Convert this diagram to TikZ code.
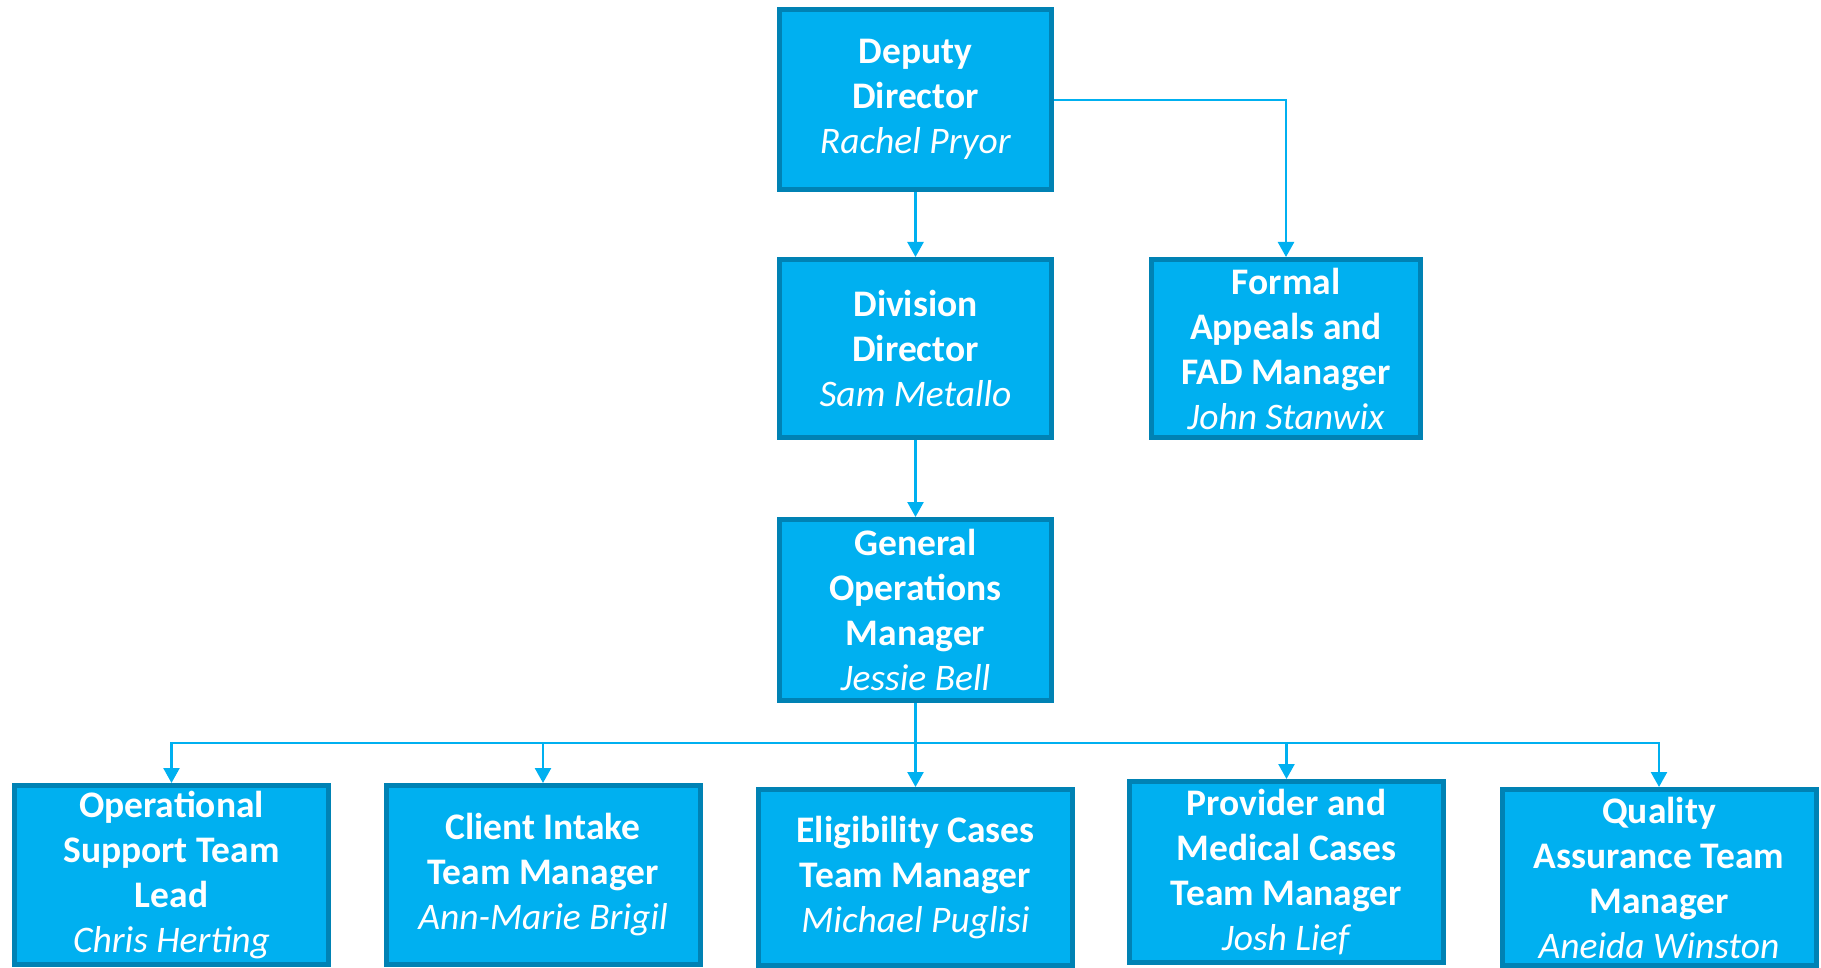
\documentclass[tikz,border=0pt]{standalone}
\usepackage{fontspec}
\setmainfont{Carlito}
\usetikzlibrary{arrows.meta}
\definecolor{boxfill}{HTML}{00B0F0}
\definecolor{boxline}{HTML}{0082B4}
\definecolor{conn}{HTML}{00B0F0}
\tikzset{
  orgbox/.style={draw=boxline, fill=boxfill, line width=5pt, text=white, align=center,
    inner sep=0pt, minimum width=272pt, minimum height=180pt,
    font=\fontsize{37.5}{45}\selectfont},
  wbox/.style={orgbox, minimum width=314pt},
  arr/.style={draw=conn, line width=2.5pt, -{Triangle[length=15pt,width=16pt]}},
  plain/.style={draw=conn, line width=2.5pt}
}
\newcommand{\ttl}[1]{\textbf{#1}}
\newcommand{\nm}[1]{\textit{#1}}
\begin{document}
\begin{tikzpicture}[x=1pt,y=-1pt]
\useasboundingbox (0,0) rectangle (1821,968);
\node[orgbox] (top) at (915.5,99.5) {\ttl{Deputy}\\\ttl{Director}\\\nm{Rachel Pryor}};
\node[orgbox, minimum height=178pt] (div) at (915.5,348.5) {\ttl{Division}\\\ttl{Director}\\\nm{Sam Metallo}};
\node[orgbox, minimum width=269pt, minimum height=178pt] (fad) at (1286,348.5) {\ttl{Formal}\\\ttl{Appeals and}\\\ttl{FAD Manager}\\\nm{John Stanwix}};
\node[orgbox, minimum height=181pt] (gen) at (915.5,610) {\ttl{General}\\\ttl{Operations}\\\ttl{Manager}\\\nm{Jessie Bell}};
\node[wbox, minimum height=179pt] (b1) at (171.5,875) {\ttl{Operational}\\\ttl{Support Team}\\\ttl{Lead}\\\nm{Chris Herting}};
\node[wbox, minimum height=179pt] (b2) at (543,875) {\ttl{Client Intake}\\\ttl{Team Manager}\\\nm{Ann-Marie Brigil}};
\node[wbox, minimum height=176pt] (b3) at (915.5,877.5) {\ttl{Eligibility Cases}\\\ttl{Team Manager}\\\nm{Michael Puglisi}};
\node[wbox, minimum height=181pt] (b4) at (1286.5,872) {\ttl{Provider and}\\\ttl{Medical Cases}\\\ttl{Team Manager}\\\nm{Josh Lief}};
\node[wbox, minimum height=176pt] (b5) at (1659,877.5) {\ttl{Quality}\\\ttl{Assurance Team}\\\ttl{Manager}\\\nm{Aneida Winston}};
\coordinate (bus) at (915.5,743);
\draw[arr] (top) -- (div);
\draw[arr] (top.east |- 0,100) -| (fad.north);
\draw[arr] (div) -- (gen);
\draw[arr] (gen.south) -- (b3.north);
\draw[arr] (bus) -| (b1.north);
\draw[arr] (bus) -| (b2.north);
\draw[arr] (bus) -| (b4.north);
\draw[arr] (bus) -| (b5.north);
\end{tikzpicture}
\end{document}
